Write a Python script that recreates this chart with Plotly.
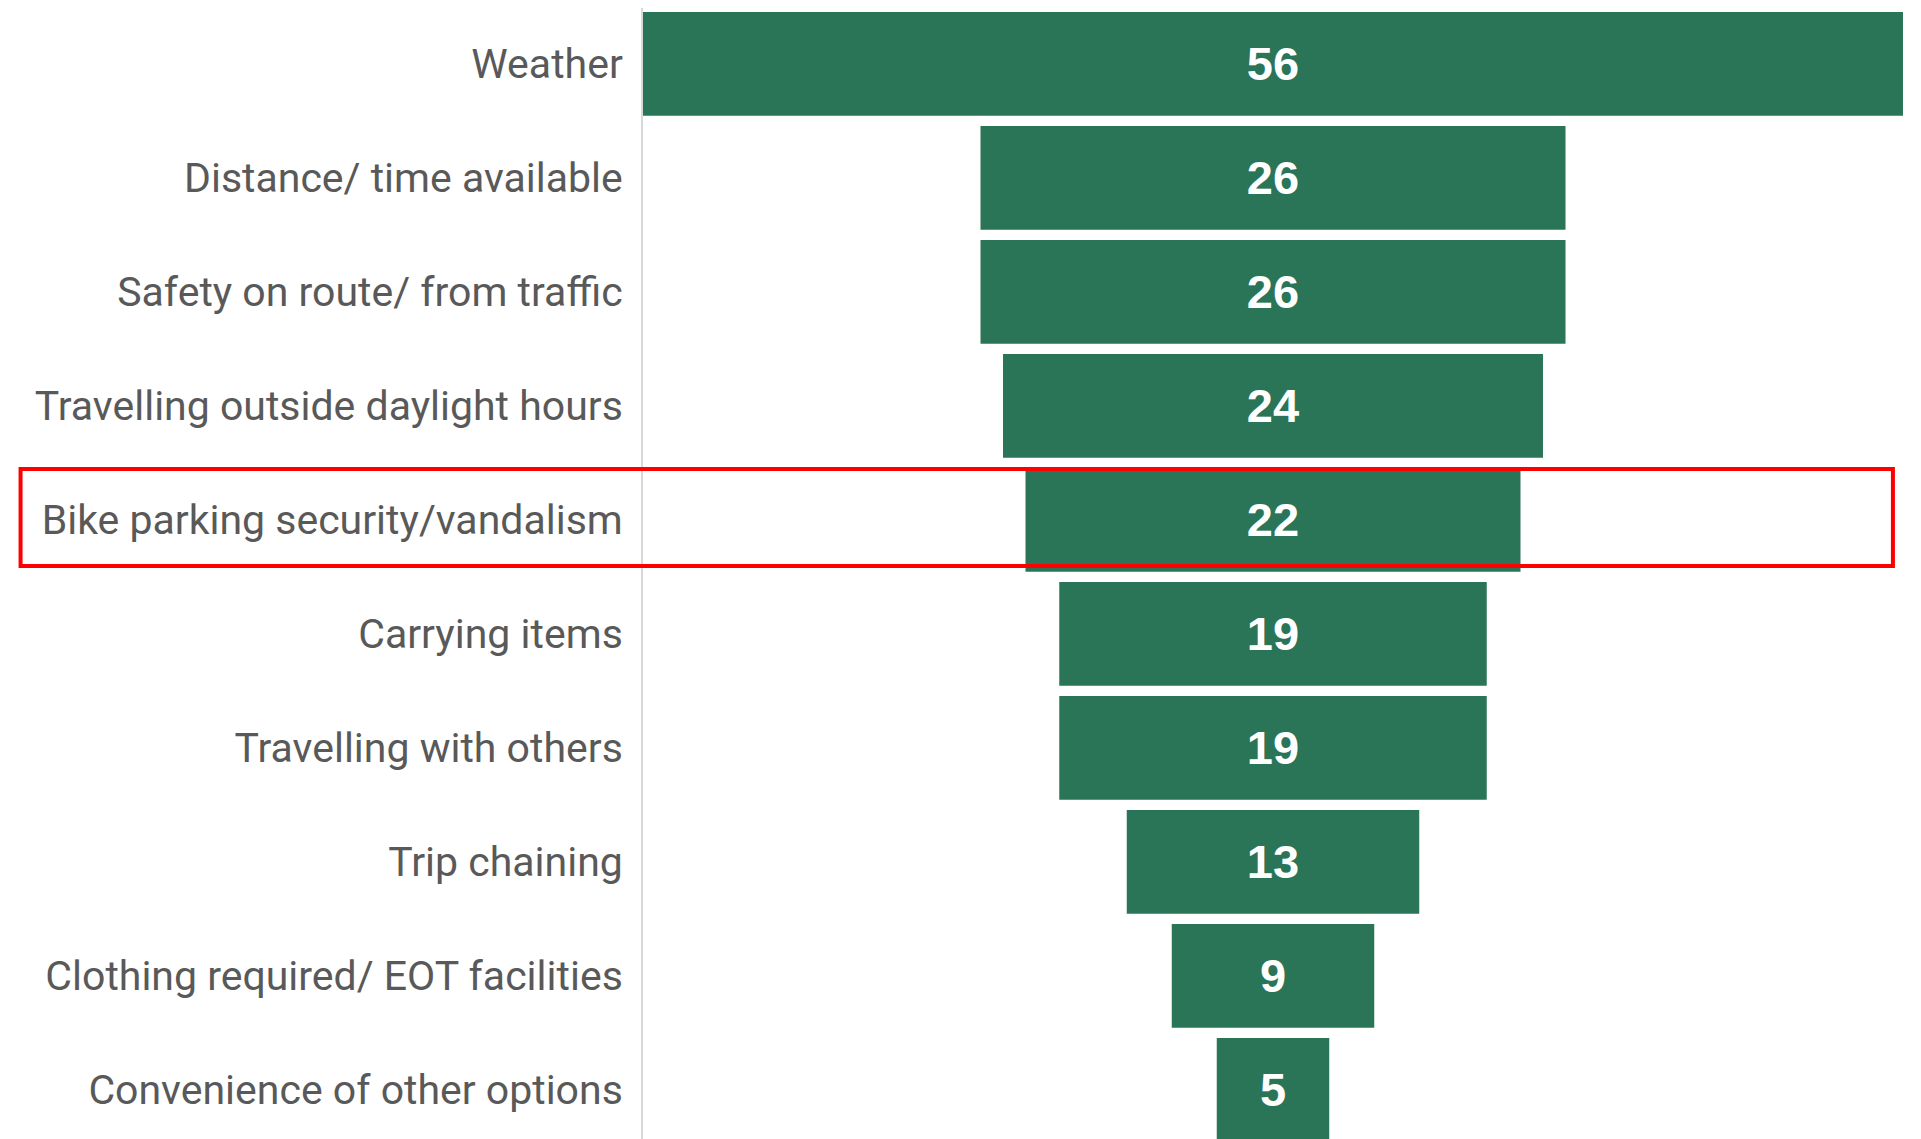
import plotly.graph_objects as go

# barriers to cycling, count of mentions
raisons = ["Weather", "Distance/ time available", "Safety on route/ from traffic",
           "Travelling outside daylight hours", "Bike parking security/vandalism",
           "Carrying items", "Travelling with others", "Trip chaining",
           "Clothing required/ EOT facilities", "Convenience of other options"]
valeurs = [56, 26, 26, 24, 22, 19, 19, 13, 9, 5]
surligne = "Bike parking security/vandalism"

vert = "#2A7457"
gris = "#595959"

fig = go.Figure()
fig.add_trace(go.Funnel(
    y=raisons, x=valeurs,
    textinfo="value", textposition="inside", constraintext="none",
    textfont=dict(family="Liberation Sans, Arial", size=47, color="white", weight="bold"),
    marker=dict(color=vert, line=dict(width=0)),
    connector=dict(visible=False),
))

# cadre rouge autour de la ligne mise en avant
i = raisons.index(surligne)
fig.add_shape(type="rect", xref="paper", yref="y",
              x0=-0.494, x1=0.992, y0=i - 0.447, y1=i + 0.404,
              line=dict(color="#FF0000", width=4), layer="above")

# la page ajoute une marge de 8 px autour du graphique
fig.update_layout(
    width=1921, height=1139,
    margin=dict(l=635, r=26, t=0, b=0, autoexpand=False),
    plot_bgcolor="white", paper_bgcolor="white",
    showlegend=False, funnelgap=0.09,
    font=dict(family="Roboto, Arial", color=gris),
)
fig.update_xaxes(range=[-28, 28], visible=False)
fig.update_yaxes(range=[9.5, -0.49], autorange=False, automargin=False,
                 showline=True, linecolor="#D9D9D9", linewidth=2,
                 showgrid=False, ticks="", ticklabelstandoff=10,
                 tickfont=dict(size=41, color=gris))

fig.write_html("out.html")
